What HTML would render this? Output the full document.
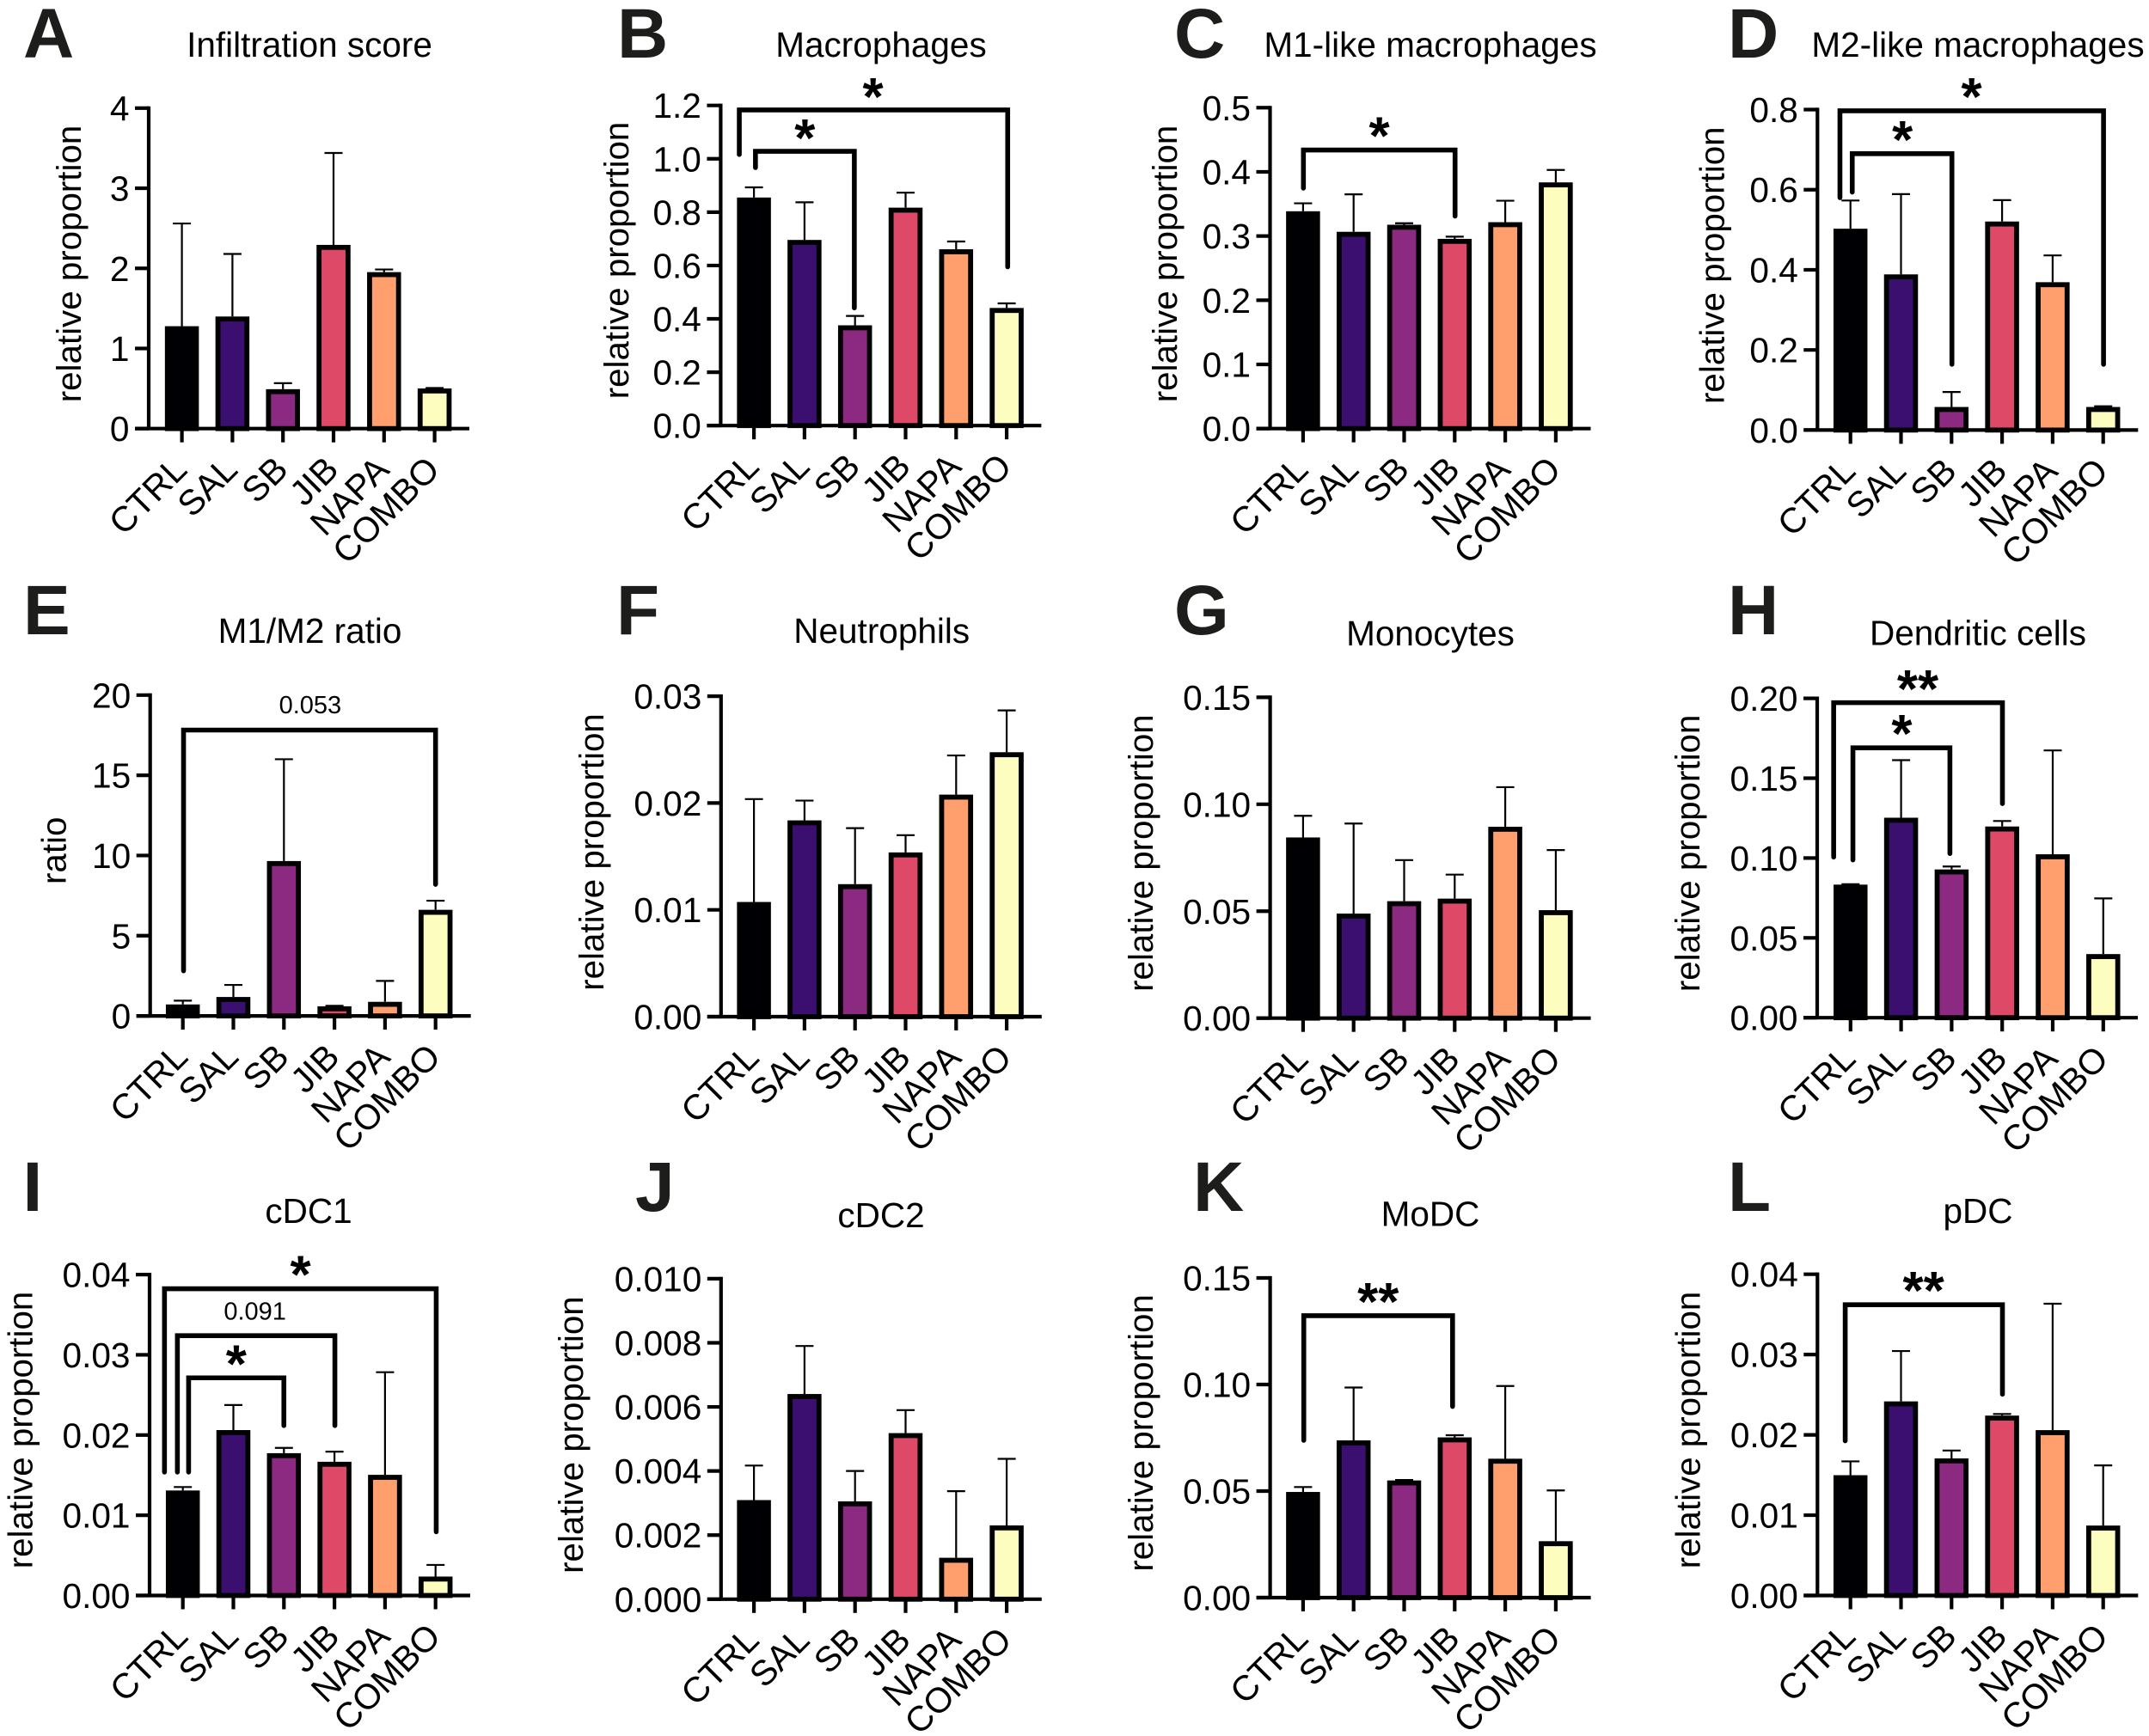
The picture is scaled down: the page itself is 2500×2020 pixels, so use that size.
<!DOCTYPE html>
<html lang="en">
<head>
<meta charset="utf-8">
<title>Immune cell proportions across treatment groups</title>
<style>
html,body{margin:0;padding:0;background:#fff;}
svg{display:block;font-family:"Liberation Sans",Arial,sans-serif;}
</style>
</head>
<body>
<svg id="figure" xmlns="http://www.w3.org/2000/svg" width="2500" height="2020" viewBox="0 0 2500 2020"></svg>
<script>
const categories = ['CTRL','SAL','SB','JIB','NAPA','COMBO'];
const barColors = ['#000004','#3b0f70','#8c2981','#de4968','#fe9f6d','#fcfdbf'];

const ticksA = ['0','1','2','3','4'];
const valuesA = [1.265,1.386,0.479,2.28,1.94,0.488];
const errorTopsA = [2.56,2.18,0.567,3.44,1.986,0.507];
const bracketsA = [];
const notesA = [];

const ticksB = ['0.0','0.2','0.4','0.6','0.8','1.0','1.2'];
const valuesB = [0.851,0.692,0.372,0.813,0.657,0.437];
const errorTopsB = [0.893,0.837,0.411,0.873,0.69,0.458];
const bracketsB = [[-0.29,5.02,1.183,1.016,0.595],[0.03,1.986,1.028,0.967,0.441]];
const notesB = [['*',2.354,1.26],['*',1.007,1.106]];

const ticksC = ['0.0','0.1','0.2','0.3','0.4','0.5'];
const valuesC = [0.337,0.305,0.316,0.294,0.32,0.382];
const errorTopsC = [0.351,0.365,0.32,0.299,0.355,0.403];
const bracketsC = [[0.007,3.007,0.434,0.3746,0.331]];
const notesC = [['*',1.507,0.4675]];

const ticksD = ['0.0','0.2','0.4','0.6','0.8'];
const valuesD = [0.5,0.386,0.055,0.518,0.3665,0.055];
const errorTopsD = [0.573,0.589,0.095,0.574,0.436,0.0595];
const bracketsD = [[-0.208,5.007,0.797,0.58,0.164],[0.035,2.007,0.69,0.594,0.164]];
const notesD = [['*',2.396,0.85],['*',1.028,0.743]];

const ticksE = ['0','5','10','15','20'];
const valuesE = [0.65,1.115,9.59,0.534,0.813,6.55];
const errorTopsE = [0.95,1.93,16.0,0.627,2.18,7.18];
const bracketsE = [[0.014,5.0,17.82,2.81,8.2]];
const notesE = [['0.053',2.52,19.4]];

const ticksF = ['0.00','0.01','0.02','0.03'];
const valuesF = [0.01064,0.01828,0.01231,0.01528,0.02069,0.02466];
const errorTopsF = [0.02037,0.02023,0.01765,0.01699,0.02445,0.02867];
const bracketsF = [];
const notesF = [];

const ticksG = ['0.00','0.05','0.10','0.15'];
const valuesG = [0.084,0.0484,0.0542,0.0554,0.089,0.05];
const errorTopsG = [0.0946,0.091,0.0739,0.0671,0.108,0.0786];
const bracketsG = [];
const notesG = [];

const ticksH = ['0.00','0.05','0.10','0.15','0.20'];
const valuesH = [0.0827,0.1246,0.0922,0.1191,0.1017,0.0392];
const errorTopsH = [0.0836,0.1613,0.0947,0.1232,0.1674,0.0747];
const bracketsH = [[-0.334,3.005,0.1973,0.1006,0.1341],[0.047,1.966,0.169,0.0988,0.1028]];
const notesH = [['**',1.33,0.2106],['*',1.015,0.1826]];

const ticksI = ['0.00','0.01','0.02','0.03','0.04'];
const valuesI = [0.01296,0.02049,0.01761,0.01654,0.01491,0.00223];
const errorTopsI = [0.01352,0.02374,0.0184,0.01793,0.02783,0.00381];
const bracketsI = [[-0.363,5.013,0.03824,0.01538,0.00794],[-0.108,3.008,0.03238,0.01538,0.02118],[0.114,1.999,0.02713,0.01538,0.02118]];
const notesI = [['*',2.328,0.0409],['0.091',1.427,0.03545],['*',1.057,0.02978]];

const ticksJ = ['0.000','0.002','0.004','0.006','0.008','0.010'];
const valuesJ = [0.00306,0.00637,0.00302,0.00515,0.00126,0.00227];
const errorTopsJ = [0.00417,0.0079,0.004,0.0059,0.00337,0.00438];
const bracketsJ = [];
const notesJ = [];

const ticksK = ['0.00','0.05','0.10','0.15'];
const valuesK = [0.0491,0.0733,0.0545,0.0747,0.0647,0.026];
const errorTopsK = [0.0519,0.0986,0.0552,0.0762,0.0993,0.0503];
const bracketsK = [[0.014,2.958,0.1323,0.0738,0.0897]];
const notesK = [['**',1.486,0.1423]];

const ticksL = ['0.00','0.01','0.02','0.03','0.04'];
const valuesL = [0.01485,0.02404,0.01694,0.02227,0.02046,0.00858];
const errorTopsL = [0.0167,0.03044,0.01805,0.0226,0.03633,0.0162];
const bracketsL = [[-0.104,3.007,0.0362,0.01926,0.02506]];
const notesL = [['**',1.444,0.0389]];

const panels = [
 {id:'a',letter:'A',lx:27,ly:67,title:'Infiltration score',tx:360,ty:66,yTitle:'relative proportion',yx:94,yy:307,ax:173,top:125.8,zero:498.7,first:211.6,ticks:ticksA,values:valuesA,errs:errorTopsA,brackets:bracketsA,notes:notesA},
 {id:'b',letter:'B',lx:718,ly:67,title:'Macrophages',tx:1025,ty:66,yTitle:'relative proportion',yx:731,yy:303,ax:838.4,top:122.7,zero:495.2,first:877.1,ticks:ticksB,values:valuesB,errs:errorTopsB,brackets:bracketsB,notes:notesB},
 {id:'c',letter:'C',lx:1366,ly:67,title:'M1-like macrophages',tx:1664,ty:66,yTitle:'relative proportion',yx:1369,yy:307,ax:1477.5,top:125.3,zero:498.7,first:1515.9,ticks:ticksC,values:valuesC,errs:errorTopsC,brackets:bracketsC,notes:notesC},
 {id:'d',letter:'D',lx:2010,ly:67,title:'M2-like macrophages',tx:2301,ty:66,yTitle:'relative proportion',yx:2005.7,yy:308.7,ax:2114.3,top:127.5,zero:500.4,first:2152.7,ticks:ticksD,values:valuesD,errs:errorTopsD,brackets:bracketsD,notes:notesD},
 {id:'e',letter:'E',lx:27,ly:738,title:'M1/M2 ratio',tx:360.5,ty:748,yTitle:'ratio',yx:76.3,yy:989.8,ax:174.7,top:808.8,zero:1182.1,first:212.7,ticks:ticksE,values:valuesE,errs:errorTopsE,brackets:bracketsE,notes:notesE},
 {id:'f',letter:'F',lx:717,ly:738,title:'Neutrophils',tx:1025.7,ty:748,yTitle:'relative proportion',yx:702,yy:991.5,ax:838.8,top:810.1,zero:1183,first:877.1,ticks:ticksF,values:valuesF,errs:errorTopsF,brackets:bracketsF,notes:notesF},
 {id:'g',letter:'G',lx:1366,ly:738,title:'Monocytes',tx:1664,ty:751,yTitle:'relative proportion',yx:1340.8,yy:992.6,ax:1477.6,top:811.4,zero:1184.7,first:1515.9,ticks:ticksG,values:valuesG,errs:errorTopsG,brackets:bracketsG,notes:notesG},
 {id:'h',letter:'H',lx:2010,ly:738,title:'Dendritic cells',tx:2301,ty:750.7,yTitle:'relative proportion',yx:1977,yy:992.9,ax:2114,top:812.6,zero:1184.2,first:2152.8,ticks:ticksH,values:valuesH,errs:errorTopsH,brackets:bracketsH,notes:notesH},
 {id:'i',letter:'I',lx:26.5,ly:1409,title:'cDC1',tx:359,ty:1423,yTitle:'relative proportion',yx:37.6,yy:1664,ax:174,top:1483.1,zero:1856.5,first:212.7,ticks:ticksI,values:valuesI,errs:errorTopsI,brackets:bracketsI,notes:notesI},
 {id:'j',letter:'J',lx:739,ly:1409,title:'cDC2',tx:1025,ty:1428,yTitle:'relative proportion',yx:678,yy:1669.6,ax:838.8,top:1487.9,zero:1860.8,first:877.1,ticks:ticksJ,values:valuesJ,errs:errorTopsJ,brackets:bracketsJ,notes:notesJ},
 {id:'k',letter:'K',lx:1388,ly:1409,title:'MoDC',tx:1664,ty:1426.7,yTitle:'relative proportion',yx:1340.8,yy:1667.4,ax:1477.6,top:1487,zero:1859,first:1515.9,ticks:ticksK,values:valuesK,errs:errorTopsK,brackets:bracketsK,notes:notesK},
 {id:'l',letter:'L',lx:2010,ly:1409,title:'pDC',tx:2301,ty:1423,yTitle:'relative proportion',yx:1977.6,yy:1664,ax:2114.3,top:1482.7,zero:1856.5,first:2152.7,ticks:ticksL,values:valuesL,errs:errorTopsL,brackets:bracketsL,notes:notesL}
];

const svgNS = 'http://www.w3.org/2000/svg';
const STEP = 58.8, BAR_W = 39.5, BAR_STROKE = 5.8, CAP_W = 21, AXIS_W = 4.2, TICK_LEN = 16, AXIS_EXT = 373, BAR_LIFT = 1.2;

function make(parent, tag, attrs, text) {
  const el = document.createElementNS(svgNS, tag);
  for (const k in attrs) el.setAttribute(k, attrs[k]);
  if (text !== undefined) el.textContent = text;
  parent.appendChild(el);
  return el;
}

function drawPanel(p) {
  const maxValue = parseFloat(p.ticks[p.ticks.length - 1]);
  const xPos = i => p.first + i * STEP;
  const yPos = v => p.zero - (v / maxValue) * (p.zero - p.top);
  const root = document.getElementById('figure');

  const g = make(root, 'g', {});
  
  

  const letter = make(g, 'text', {x:p.lx, y:p.ly, 'font-size':82, 'font-weight':'bold', fill:'#1d1d1b'}, p.letter);
  
  

  const title = make(g, 'text', {x:p.tx, y:p.ty, 'font-size':40.5, 'text-anchor':'middle', fill:'#000'}, p.title);
  
  

  const yTitle = make(g, 'text', {x:p.yx, y:p.yy, 'font-size':40.3, 'text-anchor':'middle', fill:'#000', transform:'rotate(-90 ' + p.yx + ' ' + p.yy + ')'}, p.yTitle);
  
  

  categories.forEach((cat, i) => {
    const cx = xPos(i);
    const barTop = yPos(p.values[i]) - BAR_LIFT;
    const errTop = yPos(p.errs[i]);

    const stem = make(g, 'line', {x1:cx, x2:cx, y1:barTop, y2:errTop, stroke:'#000', 'stroke-width':2.2});
    
    

    const cap = make(g, 'line', {x1:cx - CAP_W / 2, x2:cx + CAP_W / 2, y1:errTop, y2:errTop, stroke:'#000', 'stroke-width':2.2});
    
    

    const bar = make(g, 'rect', {
      x:cx - BAR_W / 2 + BAR_STROKE / 2,
      y:barTop + BAR_STROKE / 2,
      width:BAR_W - BAR_STROKE,
      height:Math.max(0, p.zero - barTop - BAR_STROKE / 2),
      fill:barColors[i], stroke:'#000', 'stroke-width':BAR_STROKE
    });
    
    

    const tick = make(g, 'line', {x1:cx, x2:cx, y1:p.zero, y2:p.zero + TICK_LEN, stroke:'#000', 'stroke-width':AXIS_W});
    
    

    const lx = cx + 8, ly = p.zero + 50;
    const label = make(g, 'text', {x:lx, y:ly, 'font-size':41, 'text-anchor':'end', fill:'#000', transform:'rotate(-45 ' + lx + ' ' + ly + ')'}, cat);
    
    
  });

  const yAxis = make(g, 'line', {x1:p.ax, x2:p.ax, y1:p.top - AXIS_W / 2, y2:p.zero, stroke:'#000', 'stroke-width':AXIS_W});
  
  

  const xAxis = make(g, 'line', {x1:p.ax - TICK_LEN, x2:p.ax + AXIS_EXT, y1:p.zero, y2:p.zero, stroke:'#000', 'stroke-width':AXIS_W});
  
  

  p.ticks.forEach(t => {
    const ty = yPos(parseFloat(t));
    const tick = make(g, 'line', {x1:p.ax - TICK_LEN, x2:p.ax, y1:ty, y2:ty, stroke:'#000', 'stroke-width':AXIS_W});
    
    

    const label = make(g, 'text', {x:p.ax - TICK_LEN - 6.5, y:ty + 14.5, 'font-size':40.6, 'text-anchor':'end', fill:'#000'}, t);
    
    
  });

  p.brackets.forEach(b => {
    const x1 = xPos(b[0]), x2 = xPos(b[1]), yt = yPos(b[2]), y1 = yPos(b[3]), y2 = yPos(b[4]);
    const path = make(g, 'path', {
      d:'M' + x1 + ' ' + y1 + 'L' + x1 + ' ' + yt + 'L' + x2 + ' ' + yt + 'L' + x2 + ' ' + y2,
      fill:'none', stroke:'#000', 'stroke-width':5.6, 'stroke-linecap':'round', 'stroke-linejoin':'miter'
    });
    
    
  });

  p.notes.forEach(n => {
    const isStar = n[0].charAt(0) === '*';
    const size = isStar ? 62 : 29;
    const offset = isStar ? 30 : 10;
    const note = make(g, 'text', {
      x:xPos(n[1]), y:yPos(n[2]) + offset, 'font-size':size,
      'font-weight':isStar ? 'bold' : 'normal', 'text-anchor':'middle', fill:'#000'
    }, n[0]);
    
    
  });
}

panels.forEach(drawPanel);
</script>
</body>
</html>
